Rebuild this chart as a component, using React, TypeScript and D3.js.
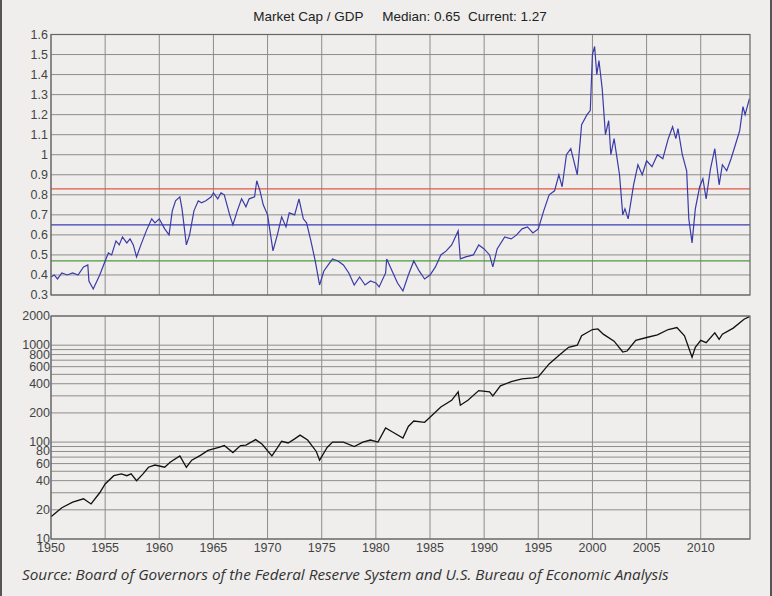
import React from "react";
import * as d3 from "d3";

// Market cap / GDP ratio: [year, value]
const ratio: [number, number][] = [
  [1950.0, 0.39], [1950.3, 0.4], [1950.6, 0.38], [1951.0, 0.41], [1951.5, 0.4], [1952.0, 0.41],
  [1952.5, 0.4], [1953.0, 0.44], [1953.4, 0.45], [1953.5, 0.37], [1953.9, 0.33], [1954.5, 0.4],
  [1955.0, 0.47], [1955.3, 0.51], [1955.6, 0.5], [1956.0, 0.57], [1956.3, 0.55], [1956.6, 0.59],
  [1957.0, 0.56], [1957.3, 0.58], [1957.6, 0.55], [1957.9, 0.49], [1958.3, 0.55], [1958.8, 0.62],
  [1959.3, 0.68], [1959.6, 0.66], [1960.0, 0.68], [1960.5, 0.63], [1960.9, 0.6], [1961.2, 0.72],
  [1961.5, 0.77], [1961.9, 0.79], [1962.1, 0.73], [1962.5, 0.55], [1962.8, 0.6], [1963.2, 0.72],
  [1963.6, 0.77], [1963.9, 0.76], [1964.3, 0.77], [1964.8, 0.79], [1965.0, 0.81], [1965.4, 0.78],
  [1965.7, 0.81], [1966.0, 0.8], [1966.5, 0.7], [1966.8, 0.65], [1967.2, 0.72], [1967.6, 0.78],
  [1968.0, 0.74], [1968.3, 0.78], [1968.8, 0.79], [1969.0, 0.87], [1969.3, 0.82], [1969.6, 0.75],
  [1970.0, 0.7], [1970.5, 0.52], [1970.9, 0.6], [1971.3, 0.69], [1971.7, 0.64], [1972.0, 0.71],
  [1972.5, 0.7], [1972.9, 0.78], [1973.3, 0.68], [1973.6, 0.66], [1974.0, 0.57], [1974.4, 0.47],
  [1974.8, 0.35], [1975.2, 0.42], [1975.6, 0.45], [1976.0, 0.48], [1976.5, 0.47], [1977.0, 0.45],
  [1977.5, 0.41], [1978.0, 0.35], [1978.5, 0.39], [1979.0, 0.35], [1979.5, 0.37], [1980.0, 0.36],
  [1980.3, 0.34], [1980.9, 0.41], [1981.0, 0.48], [1981.5, 0.42], [1982.0, 0.36], [1982.5, 0.32],
  [1983.0, 0.4], [1983.5, 0.47], [1984.0, 0.42], [1984.5, 0.38], [1985.0, 0.4], [1985.5, 0.44],
  [1986.0, 0.5], [1986.5, 0.52], [1987.0, 0.55], [1987.6, 0.62], [1987.8, 0.48], [1988.3, 0.49],
  [1989.0, 0.5], [1989.5, 0.55], [1990.0, 0.53], [1990.5, 0.5], [1990.8, 0.44], [1991.2, 0.53],
  [1991.9, 0.59], [1992.5, 0.58], [1993.0, 0.6], [1993.5, 0.63], [1994.0, 0.64], [1994.5, 0.61],
  [1995.0, 0.63], [1995.5, 0.72], [1996.0, 0.8], [1996.5, 0.82], [1996.9, 0.9], [1997.2, 0.84],
  [1997.6, 1.0], [1998.0, 1.03], [1998.6, 0.9], [1999.0, 1.15], [1999.5, 1.2], [1999.8, 1.22],
  [2000.0, 1.5], [2000.2, 1.54], [2000.4, 1.4], [2000.6, 1.47], [2000.9, 1.33], [2001.2, 1.1],
  [2001.5, 1.17], [2001.7, 1.0], [2002.0, 1.08], [2002.5, 0.9], [2002.8, 0.7], [2003.0, 0.73],
  [2003.3, 0.68], [2003.8, 0.85], [2004.2, 0.95], [2004.6, 0.9], [2005.0, 0.97], [2005.5, 0.94],
  [2006.0, 1.0], [2006.5, 0.98], [2007.0, 1.08], [2007.4, 1.14], [2007.7, 1.08], [2007.9, 1.13],
  [2008.3, 1.0], [2008.7, 0.92], [2008.9, 0.68], [2009.2, 0.56], [2009.5, 0.73], [2009.9, 0.84],
  [2010.2, 0.88], [2010.5, 0.78], [2010.9, 0.93], [2011.3, 1.03], [2011.7, 0.85], [2012.0, 0.95],
  [2012.4, 0.92], [2012.8, 0.98], [2013.2, 1.05], [2013.6, 1.12], [2013.9, 1.24], [2014.1, 1.2],
  [2014.5, 1.28],
];

// S&P 500 index: [year, value]
const index: [number, number][] = [
  [1950.0, 17], [1951.0, 21], [1952.0, 24], [1953.0, 26], [1953.7, 23], [1954.5, 30], [1955.0, 37],
  [1955.8, 45], [1956.5, 47], [1957.0, 45], [1957.4, 47], [1957.9, 40], [1958.5, 47], [1959.0, 55],
  [1959.6, 58], [1960.5, 55], [1961.0, 62], [1961.9, 72], [1962.5, 55], [1963.0, 65], [1963.8, 73],
  [1964.5, 82], [1965.5, 88], [1966.0, 92], [1966.8, 78], [1967.5, 92], [1968.0, 93], [1968.9, 106],
  [1969.5, 95], [1970.4, 72], [1970.9, 87], [1971.3, 102], [1971.9, 98], [1972.5, 108], [1973.0, 118],
  [1973.7, 105], [1974.5, 80], [1974.8, 65], [1975.5, 88], [1976.0, 100], [1977.0, 100], [1978.0, 90],
  [1978.8, 100], [1979.5, 105], [1980.2, 100], [1980.9, 140], [1981.5, 128], [1982.5, 110],
  [1983.0, 145], [1983.5, 165], [1984.5, 160], [1985.0, 180], [1986.0, 230], [1987.0, 270],
  [1987.6, 330], [1987.8, 240], [1988.5, 270], [1989.5, 340], [1990.5, 330], [1990.8, 300],
  [1991.5, 380], [1992.5, 420], [1993.5, 450], [1994.5, 460], [1995.0, 470], [1996.0, 640],
  [1997.0, 800], [1997.8, 950], [1998.6, 1000], [1999.0, 1250], [2000.0, 1450], [2000.5, 1470],
  [2001.0, 1300], [2002.0, 1100], [2002.8, 850], [2003.2, 870], [2004.0, 1120], [2005.0, 1200],
  [2006.0, 1280], [2007.0, 1450], [2007.8, 1520], [2008.5, 1250], [2009.2, 750], [2009.5, 950],
  [2010.0, 1120], [2010.5, 1060], [2011.3, 1340], [2011.7, 1150], [2012.0, 1300], [2013.0, 1500],
  [2014.0, 1850], [2014.5, 1970],
];

const refLines = [
  { value: 0.83, color: "#e0584a" },
  { value: 0.65, color: "#3b3bb0" },
  { value: 0.47, color: "#4c9a3c" },
];
const yearTicks = d3.range(1950, 2015, 5);
const ratioTicks = d3.range(3, 17).map((d) => d / 10);
const logGrid = [10, 20, 30, 40, 50, 60, 70, 80, 90, 100, 200, 300, 400, 500, 600, 700, 800, 900, 1000, 2000];
const logLabels = [10, 20, 40, 60, 80, 100, 200, 400, 600, 800, 1000, 2000];

const W = 772, H = 596;
const left = 51, right = 750;
const topY0 = 34.5, topY1 = 295;
const botY0 = 316, botY1 = 539;
const font = "'Liberation Sans', Arial, sans-serif";

export default function App() {
  const x = d3.scaleLinear().domain([1950, 2014.55]).range([left, right]);
  const yTop = d3.scaleLinear().domain([0.3, 1.6]).range([topY1, topY0]);
  const yBot = d3.scaleLog().domain([10, 2000]).range([botY1, botY0]);
  const lineTop = d3.line<[number, number]>().x((d) => x(d[0])).y((d) => yTop(d[1]));
  const lineBot = d3.line<[number, number]>().x((d) => x(d[0])).y((d) => yBot(d[1]));
  const grid = "#8e8c8a";

  return (
    <svg width={W} height={H} style={{ position: "absolute", left: 0, top: 0, display: "block" }}>
      <rect x={0} y={0} width={W} height={H} fill="#efeeec" />
      <line x1={1} x2={1} y1={0} y2={H} stroke="#555" strokeWidth={2} />
      <line x1={W - 1} x2={W - 1} y1={0} y2={H} stroke="#555" strokeWidth={2} />
      <text x={400} y={21} textAnchor="middle" fontFamily={font} fontSize={13.5} fill="#222">
        Market Cap / GDP{"\u00a0\u00a0\u00a0\u00a0\u00a0"}Median: 0.65{"\u00a0\u00a0"}Current: 1.27
      </text>

      {/* top panel */}
      {ratioTicks.map((t) => (
        <g key={"rt" + t}>
          <line x1={left} x2={right} y1={yTop(t)} y2={yTop(t)} stroke={grid} strokeWidth={1} />
          <text x={left - 3} y={yTop(t) + 4} textAnchor="end" fontFamily={font} fontSize={12.5} fill="#444">
            {d3.format("~g")(t)}
          </text>
        </g>
      ))}
      {yearTicks.map((t) => (
        <line key={"vt" + t} x1={x(t)} x2={x(t)} y1={topY0} y2={topY1} stroke={grid} strokeWidth={1} />
      ))}
      {refLines.map((r) => (
        <line key={r.color} x1={left} x2={right} y1={yTop(r.value)} y2={yTop(r.value)} stroke={r.color} strokeWidth={1.2} />
      ))}
      <path d={lineTop(ratio) ?? ""} fill="none" stroke="#3a3aa8" strokeWidth={1.2} />
      <rect x={left} y={topY0} width={right - left} height={topY1 - topY0} fill="none" stroke="#666" strokeWidth={1.2} />

      {/* bottom panel */}
      {logGrid.map((t) => (
        <line key={"lg" + t} x1={left} x2={right} y1={yBot(t)} y2={yBot(t)} stroke={grid} strokeWidth={1} />
      ))}
      {logLabels.map((t) => (
        <text key={"ll" + t} x={left - 1} y={yBot(t) + 4} textAnchor="end" fontFamily={font} fontSize={12.5} fill="#444">
          {t}
        </text>
      ))}
      {yearTicks.map((t) => (
        <g key={"bt" + t}>
          <line x1={x(t)} x2={x(t)} y1={botY0} y2={botY1} stroke={grid} strokeWidth={1} />
          <text x={x(t)} y={botY1 + 13} textAnchor="middle" fontFamily={font} fontSize={12.5} fill="#444">
            {t}
          </text>
        </g>
      ))}
      <path d={lineBot(index) ?? ""} fill="none" stroke="#111" strokeWidth={1.3} />
      <rect x={left} y={botY0} width={right - left} height={botY1 - botY0} fill="none" stroke="#666" strokeWidth={1.2} />

      <text x={22} y={580} fontFamily="'Open Sans', sans-serif" fontStyle="italic" fontSize={15.3} fill="#333">
        Source: Board of Governors of the Federal Reserve System and U.S. Bureau of Economic Analysis
      </text>
    </svg>
  );
}
